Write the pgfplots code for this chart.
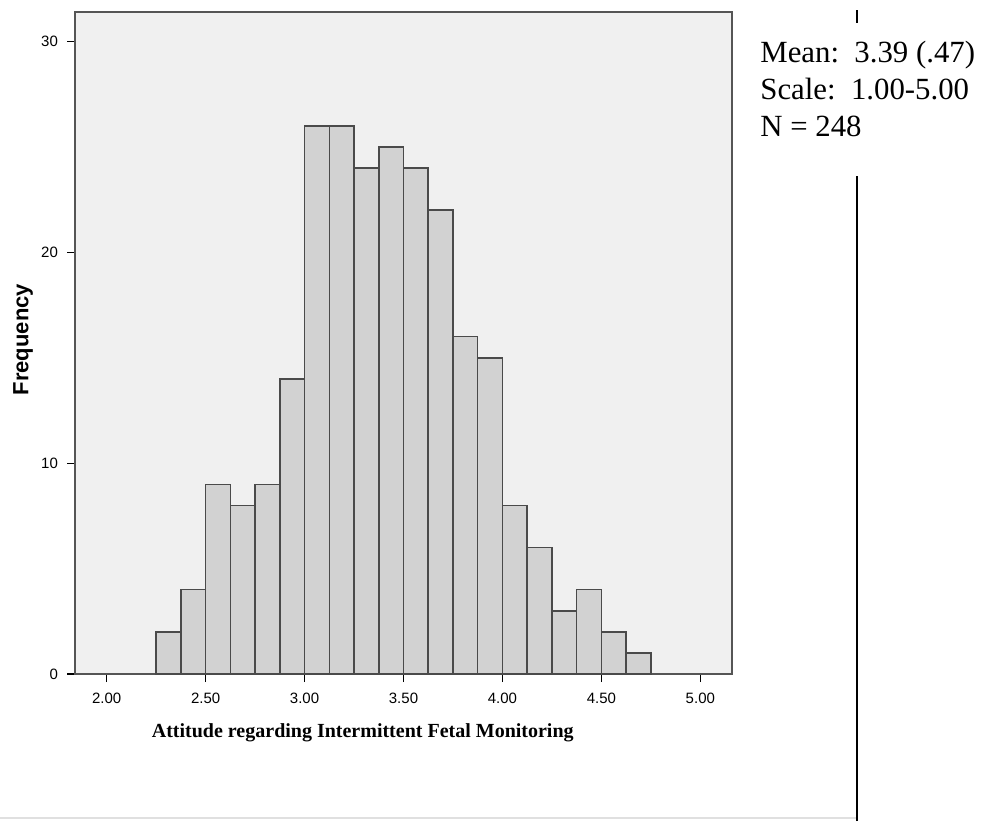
\documentclass[border=0pt]{standalone}
\usepackage{fontspec}
\setmainfont{Liberation Serif}
\setsansfont{Liberation Sans}
\usepackage{pgfplots}
\pgfplotsset{compat=1.18}
\definecolor{plotbg}{HTML}{F0F0F0}
\definecolor{barfill}{HTML}{D2D2D2}
\definecolor{baredge}{HTML}{4A4A4A}
\definecolor{axisc}{HTML}{555555}
\begin{document}
\begin{tikzpicture}[x=1pt,y=1pt]
\useasboundingbox (0,0) rectangle (493,410.5);
\fill[white] (0,0) rectangle (493,410.5);
\begin{axis}[
  at={(37.5pt,73.5pt)}, anchor=south west,
  scale only axis, width=328.5pt, height=331pt,
  xmin=1.84, xmax=5.16, ymin=0, ymax=31.4,
  axis background/.style={fill=plotbg},
  axis line style={axisc, line width=0.8pt},
  xtick={2,2.5,3,3.5,4,4.5,5},
  ytick={0,10,20,30},
  tick align=outside, major tick length=4pt,
  tick style={black, line width=0.6pt},
  xtick pos=bottom, ytick pos=left,
  /pgf/number format/assume math mode=true,
  xticklabel style={yshift=-2pt, font=\sffamily\fontsize{7.5}{9}\selectfont, /pgf/number format/.cd, fixed, fixed zerofill, precision=2},
  yticklabel style={xshift=-1pt, font=\sffamily\fontsize{7.5}{9}\selectfont},
  xlabel={Attitude regarding Intermittent Fetal Monitoring},
  xlabel style={at={(axis description cs:0.438,-0.089)}, anchor=center, font=\bfseries\fontsize{10}{12}\selectfont},
  ylabel={Frequency},
  ylabel style={at={(axis description cs:-0.079,0.505)}, anchor=center, rotate=0, font=\sffamily\bfseries\fontsize{11}{13}\selectfont},
]
\addplot[ybar interval, fill=barfill, draw=baredge, line width=0.75pt] coordinates {
(2.25,2) (2.375,4) (2.5,9) (2.625,8) (2.75,9) (2.875,14) (3.0,26) (3.125,26)
(3.25,24) (3.375,25) (3.5,24) (3.625,22) (3.75,16) (3.875,15) (4.0,8)
(4.125,6) (4.25,3) (4.375,4) (4.5,2) (4.625,1) (4.75,1)
};
\end{axis}
\node[anchor=base west, font=\fontsize{15.4}{18}\selectfont, inner sep=0pt] at (380,379) {Mean:\ \ 3.39 (.47)};
\node[anchor=base west, font=\fontsize{15.4}{18}\selectfont, inner sep=0pt] at (380,360.5) {Scale:\ \ 1.00-5.00};
\node[anchor=base west, font=\fontsize{15.4}{18}\selectfont, inner sep=0pt] at (380,342) {N = 248};
\draw[black, line width=1.2pt] (428.5,0) -- (428.5,322.5);
\draw[black, line width=1pt] (428.5,399) -- (428.5,405.5);
\draw[black!12, line width=1.2pt] (0,1.5) -- (427.8,1.5);
\end{tikzpicture}
\end{document}
